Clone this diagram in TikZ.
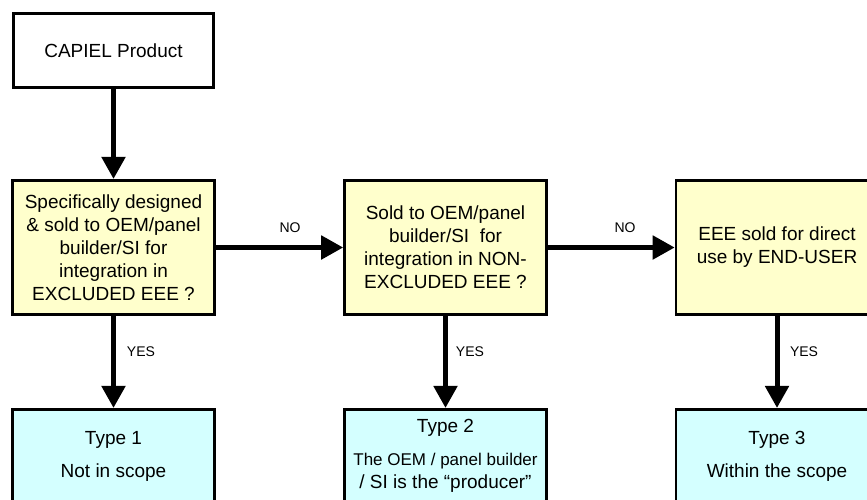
\documentclass[tikz,border=0pt]{standalone}
\usepackage{fontspec}
\setmainfont{Liberation Sans}
\usetikzlibrary{arrows.meta}
\definecolor{qyellow}{HTML}{FFFFCC}
\definecolor{tcyan}{HTML}{D4FFFF}
\begin{document}
\begin{tikzpicture}[x=1pt,y=-1pt,
  box/.style={draw, line width=2.6pt, inner sep=0pt, align=center,
    font=\fontsize{19}{23}\selectfont},
  startbox/.style={box, fill=white, minimum width=200.5pt, minimum height=74.5pt},
  qbox/.style={box, fill=qyellow, minimum width=202pt, minimum height=134.5pt},
  tbox/.style={box, fill=tcyan, minimum width=202pt, minimum height=93.5pt},
  flow/.style={line width=5pt, -{Triangle[length=22pt,width=23pt]}},
  lbl/.style={font=\fontsize{14}{16}\selectfont, inner sep=0pt}]
\useasboundingbox (0,0) rectangle (867,499);
\clip (0,0) rectangle (867,499);

\node[startbox] (cap) at (113.5,50.5) {CAPIEL Product};

\node[qbox] (q1) at (113.5,247.5) {Specifically designed\\ \& sold to OEM/panel\\ builder/SI for\\ integration in\\ EXCLUDED EEE ?};
\node[qbox] (q2) at (445.5,247.5) {Sold to OEM/panel\\ builder/SI\ \ for\\ integration in NON-\\ EXCLUDED EEE ?};
\node[qbox] (q3) at (777,247.5) {EEE sold for direct\\ use by END-USER};

\node[tbox] (t1) at (113.5,456) {Type 1\\[10pt]Not in scope};
\node[tbox] (t2) at (445.5,456) {Type 2\\[10pt]\fontsize{17}{19}\selectfont The OEM / panel builder\\ / SI is the “producer”};
\node[tbox] (t3) at (777,456) {Type 3\\[10pt]Within the scope};

\draw[flow] (cap) -- (q1);
\draw[flow] (q1) -- (q2);
\draw[flow] (q2) -- (q3);
\draw[flow] (q1) -- (t1);
\draw[flow] (q2) -- (t2);
\draw[flow] (q3) -- (t3);

\node[lbl] (no1) at (290,228) {NO};
\node[lbl] (no2) at (625,228) {NO};
\node[lbl] (yes1) at (141,352) {YES};
\node[lbl] (yes2) at (470,352) {YES};
\node[lbl] (yes3) at (804,352) {YES};
\end{tikzpicture}
\end{document}
